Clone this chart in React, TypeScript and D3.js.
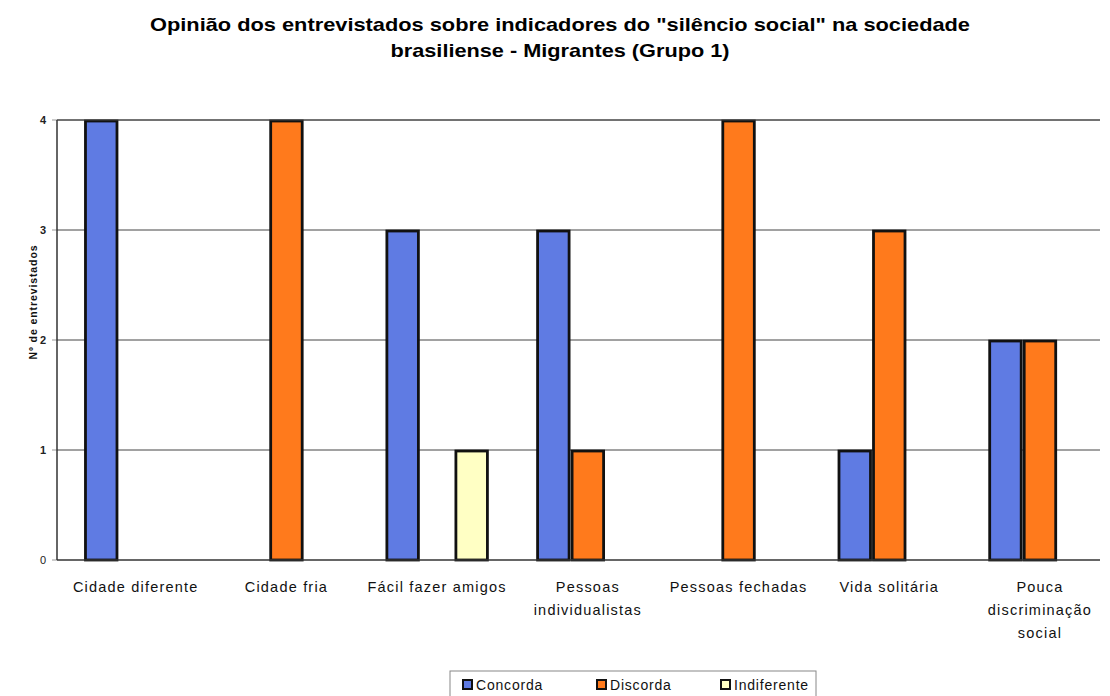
import React from "react";
import * as d3 from "d3";

const titleLines = [
  'Opinião dos entrevistados sobre indicadores do "silêncio social" na sociedade',
  "brasiliense - Migrantes (Grupo 1)",
];
const categories = [
  "Cidade diferente",
  "Cidade fria",
  "Fácil fazer amigos",
  "Pessoas individualistas",
  "Pessoas fechadas",
  "Vida solitária",
  "Pouca discriminação social",
];
const categoryLines = [
  ["Cidade diferente"],
  ["Cidade fria"],
  ["Fácil fazer amigos"],
  ["Pessoas", "individualistas"],
  ["Pessoas fechadas"],
  ["Vida solitária"],
  ["Pouca", "discriminação", "social"],
];
const seriesNames = ["Concorda", "Discorda", "Indiferente"];
const concorda = [4, 0, 3, 3, 0, 1, 2];
const discorda = [0, 4, 0, 1, 4, 3, 2];
const indiferente = [0, 0, 1, 0, 0, 0, 0];
const yTicks = [0, 1, 2, 3, 4];
const yLabel = "Nº de entrevistados";

const colors = ["#5f7be3", "#ff7a1c", "#ffffc4"];

export default function App() {
  const W = 1110, H = 696;
  const left = 57, right = 1118.7, top = 120, bottom = 560;
  const x = d3.scaleBand<string>().domain(categories).range([left, right]).paddingInner(0.313).paddingOuter(0.179);
  const xs = d3.scaleBand<string>().domain(seriesNames).range([0, x.bandwidth()]).padding(0);
  const y = d3.scaleLinear().domain([0, 4]).range([bottom, top]);
  const series = [concorda, discorda, indiferente];
  const font = "'Liberation Sans', Arial, sans-serif";
  const titleLens = [820, 339];

  return (
    <svg width={W} height={H} style={{ position: "absolute", left: 0, top: 0, background: "#fff" }} fontFamily={font}>
      <rect x={0} y={0} width={W} height={H} fill="#fff" />
      {titleLines.map((t, i) => (
        <text key={i} x={560 - titleLens[i] / 2} y={31 + i * 26} fontSize={19} fontWeight="bold" fill="#000"
          textLength={titleLens[i]} lengthAdjust="spacingAndGlyphs">{t}</text>
      ))}
      {yTicks.map((t) => (
        <g key={t}>
          {t > 0 && <line x1={left} x2={1100} y1={y(t)} y2={y(t)} stroke="#444" strokeWidth={1} />}
          <line x1={left - 5} x2={left} y1={y(t)} y2={y(t)} stroke="#999" strokeWidth={1} />
          <text x={left - 11} y={y(t) + 4} textAnchor="end" fontSize={11} fontWeight={t === 0 ? "normal" : "bold"} fill="#222">{t}</text>
        </g>
      ))}
      <text transform={`translate(37,${302}) rotate(-90)`} textAnchor="middle" fontSize={10.5} fontWeight="bold" fill="#111" letterSpacing={0.9}>{yLabel}</text>
      {categories.map((c, ci) => (
        <g key={c}>
          {series.map((s, si) => s[ci] > 0 ? (
            <rect key={si}
              x={(x(c) as number) + (xs(seriesNames[si]) as number) + 1.5}
              y={y(s[ci]) + 1}
              width={xs.bandwidth() - 3}
              height={y(0) - y(s[ci]) - 1}
              fill={colors[si]} stroke="#111" strokeWidth={2.8} />
          ) : null)}
          {categoryLines[ci].map((l, li) => (
            <text key={li} x={(x(c) as number) + x.bandwidth() / 2} y={592 + li * 23} textAnchor="middle" fontSize={14.5} fill="#111" letterSpacing={1.2}>{l}</text>
          ))}
        </g>
      ))}
      <line x1={left} x2={left} y1={top} y2={bottom} stroke="#333" strokeWidth={1.5} />
      <line x1={left} x2={1100} y1={bottom} y2={bottom} stroke="#333" strokeWidth={1.5} />
      <line x1={left} x2={1100} y1={top} y2={top} stroke="#444" strokeWidth={1} />
      <g>
        <rect x={450} y={671} width={366} height={30} fill="#fff" stroke="#888" strokeWidth={1} />
        {seriesNames.map((n, i) => {
          const lx = [463, 597, 721][i];
          return (
            <g key={n}>
              <rect x={lx} y={680} width={9} height={9} fill={colors[i]} stroke="#111" strokeWidth={2} />
              <text x={lx + 13} y={690} fontSize={14} fill="#111" letterSpacing={0.8}>{n}</text>
            </g>
          );
        })}
      </g>
    </svg>
  );
}
